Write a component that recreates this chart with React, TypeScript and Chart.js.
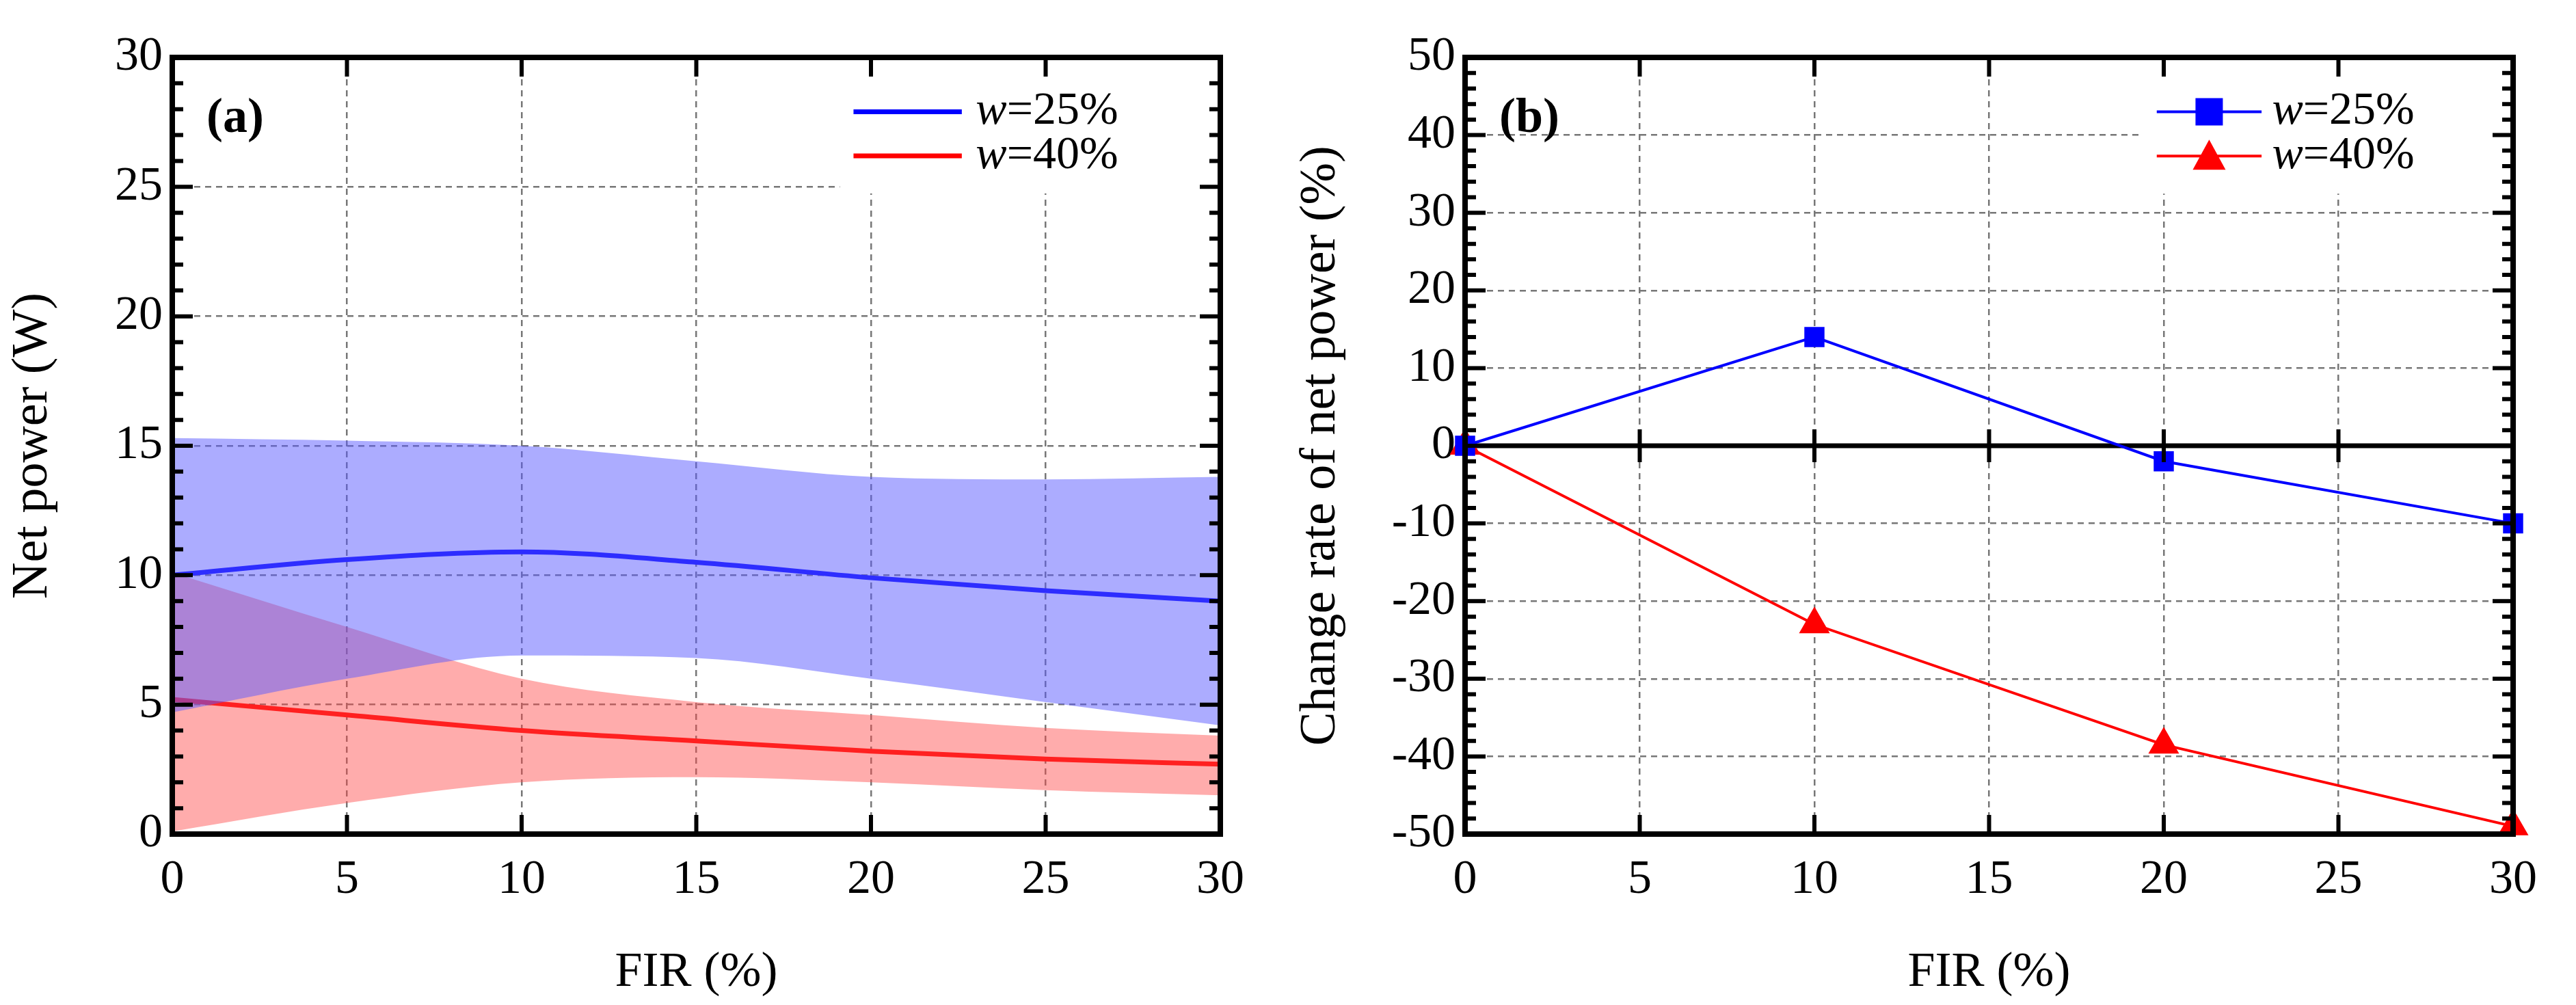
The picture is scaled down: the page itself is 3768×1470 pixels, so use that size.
import React, { useEffect, useRef } from "react";
import { Chart, registerables } from "chart.js";
Chart.register(...registerables);

const firA = [0, 5, 10, 15, 20, 25, 30];
const w25Mean = [10.0, 10.6, 10.9, 10.5, 9.9, 9.4, 9.0];
const w25Upper = [15.3, 15.2, 15.0, 14.4, 13.8, 13.7, 13.8];
const w25Lower = [4.7, 6.0, 6.9, 6.8, 6.0, 5.1, 4.2];
const w40Mean = [5.2, 4.6, 4.0, 3.6, 3.2, 2.9, 2.7];
const w40Upper = [10.1, 8.0, 6.0, 5.1, 4.6, 4.1, 3.8];
const w40Lower = [0.1, 1.2, 2.0, 2.2, 2.0, 1.7, 1.5];

const firB = [0, 10, 20, 30];
const rateW25 = [0, 14, -2, -10];
const rateW40 = [0, -23, -38.5, -49];

const xTicks = [0, 5, 10, 15, 20, 25, 30];
const FONT = "'Liberation Serif', 'DejaVu Serif', serif";

const pts = (xs: number[], ys: number[]) => xs.map((x, i) => ({ x, y: ys[i] }));

function framePlugin(opts: any) {
  return {
    id: "frame",
    beforeDatasetsDraw(chart: any) {
      const { ctx, chartArea: a, scales } = chart;
      const xs = scales.x, ys = scales.y;
      ctx.save();
      const lx0 = xs.getPixelForValue(opts.legX0) - 20;
      const lx1 = xs.getPixelForValue(opts.legTextX) + 340;
      const ly0 = ys.getPixelForValue(opts.legY[0]) - 60;
      const ly1 = ys.getPixelForValue(opts.legY[1]) + 55;
      ctx.fillStyle = "#fff";
      ctx.fillRect(lx0, ly0, lx1 - lx0, ly1 - ly0);
      if (opts.zero) {
        ctx.strokeStyle = "#000";
        ctx.lineWidth = 7;
        ctx.beginPath();
        const y0 = ys.getPixelForValue(0);
        ctx.moveTo(a.left, y0);
        ctx.lineTo(a.right, y0);
        ctx.stroke();
      }
      ctx.restore();
    },
    afterDatasetsDraw(chart: any) {
      const { ctx, chartArea: a, scales } = chart;
      const xs = scales.x, ys = scales.y;
      ctx.save();
      ctx.strokeStyle = "#000";
      ctx.lineWidth = 8;
      ctx.strokeRect(a.left, a.top, a.right - a.left, a.bottom - a.top);
      ctx.lineWidth = 6;
      ctx.beginPath();
      for (let v = 0; v <= 30; v += 5) {
        const px = xs.getPixelForValue(v);
        ctx.moveTo(px, a.bottom); ctx.lineTo(px, a.bottom - 28);
        ctx.moveTo(px, a.top); ctx.lineTo(px, a.top + 28);
        if (opts.zero) { const y0 = ys.getPixelForValue(0); ctx.moveTo(px, y0 - 24); ctx.lineTo(px, y0 + 24); }
      }
      const { min, max, minor, major } = opts.y;
      for (let v = min; v <= max + 1e-9; v += minor) {
        const py = ys.getPixelForValue(v);
        const isMaj = Math.abs(v / major - Math.round(v / major)) < 1e-6;
        const len = isMaj ? 30 : 16;
        ctx.moveTo(a.left, py); ctx.lineTo(a.left + len, py);
        ctx.moveTo(a.right, py); ctx.lineTo(a.right - len, py);
      }
      ctx.stroke();
      ctx.fillStyle = "#000";
      ctx.font = `bold 72px ${FONT}`;
      ctx.textBaseline = "middle";
      ctx.fillText(opts.label, a.left + 50, a.top + 90);
      opts.items.forEach((it: any, i: number) => {
        const py = ys.getPixelForValue(opts.legY[i]);
        const x0 = xs.getPixelForValue(opts.legX0);
        const x1 = xs.getPixelForValue(opts.legX1);
        ctx.strokeStyle = it.color;
        ctx.lineWidth = it.lw;
        ctx.beginPath(); ctx.moveTo(x0, py); ctx.lineTo(x1, py); ctx.stroke();
        ctx.fillStyle = it.color;
        const mx = (x0 + x1) / 2;
        if (it.marker === "square") ctx.fillRect(mx - 20, py - 20, 40, 40);
        if (it.marker === "triangle") { ctx.beginPath(); ctx.moveTo(mx, py - 24); ctx.lineTo(mx + 24, py + 20); ctx.lineTo(mx - 24, py + 20); ctx.closePath(); ctx.fill(); }
        const tx = xs.getPixelForValue(opts.legTextX);
        ctx.fillStyle = "#000";
        ctx.font = `italic 68px ${FONT}`;
        ctx.fillText("w", tx, py);
        const ww = ctx.measureText("w").width;
        ctx.font = `68px ${FONT}`;
        ctx.fillText(it.text, tx + ww, py);
      });
      ctx.restore();
    },
  };
}

function scalesFor(yMin: number, yMax: number, yStep: number, yTitle: string, yWidth: number) {
  const grid = { color: "#777", lineWidth: 2.5, drawTicks: false };
  return {
    x: {
      type: "linear", min: 0, max: 30, afterBuildTicks: (s: any) => { s.ticks = xTicks.map((v) => ({ value: v })); },
      grid: { ...grid }, border: { display: false, dash: [9, 7] },
      ticks: { font: { family: FONT, size: 70 }, color: "#000", padding: 26, maxRotation: 0 },
      title: { display: true, text: "FIR (%)", font: { family: FONT, size: 72 }, color: "#000", padding: { top: 10 } },
      afterFit: (s: any) => { s.height = 250; },
    },
    y: {
      min: yMin, max: yMax,
      ticks: { stepSize: yStep, font: { family: FONT, size: 70 }, color: "#000", padding: 14 },
      grid: { ...grid }, border: { display: false, dash: [9, 7] },
      title: { display: true, text: yTitle, font: { family: FONT, size: 74 }, color: "#000", padding: { bottom: 4 } },
      afterFit: (s: any) => { s.width = yWidth; },
    },
  };
}

function ChartA() {
  const ref = useRef<HTMLCanvasElement>(null);
  useEffect(() => {
    const c = new Chart(ref.current!, {
      type: "line",
      data: {
        datasets: [
          { data: pts(firA, w25Upper), borderWidth: 0, pointRadius: 0, fill: "+1", backgroundColor: "rgba(90,90,255,0.5)", cubicInterpolationMode: "monotone" },
          { data: pts(firA, w25Lower), borderWidth: 0, pointRadius: 0, fill: false, cubicInterpolationMode: "monotone" },
          { data: pts(firA, w40Upper), borderWidth: 0, pointRadius: 0, fill: "+1", backgroundColor: "rgba(255,70,70,0.45)", cubicInterpolationMode: "monotone" },
          { data: pts(firA, w40Lower), borderWidth: 0, pointRadius: 0, fill: false, cubicInterpolationMode: "monotone" },
          { data: pts(firA, w25Mean), borderColor: "#0000ff", borderWidth: 7, pointRadius: 0, fill: false, cubicInterpolationMode: "monotone" },
          { data: pts(firA, w40Mean), borderColor: "#ff0000", borderWidth: 7, pointRadius: 0, fill: false, cubicInterpolationMode: "monotone" },
        ],
      },
      options: {
        animation: false, responsive: false, maintainAspectRatio: false,
        layout: { padding: { top: 84, right: 99, left: 0, bottom: 0 } },
        plugins: { legend: { display: false }, tooltip: { enabled: false } },
        scales: scalesFor(0, 30, 5, "Net power (W)", 252) as any,
      },
      plugins: [framePlugin({ label: "(a)", legX0: 19.5, legX1: 22.6, legTextX: 23.0, legY: [27.9, 26.2], y: { min: 0, max: 30, minor: 1, major: 5 }, items: [
        { color: "#0000ff", lw: 7, text: "=25%" }, { color: "#ff0000", lw: 7, text: "=40%" }] })],
    });
    return () => c.destroy();
  }, []);
  return <canvas ref={ref} width={1884} height={1470} style={{ position: "absolute", left: 0, top: 0 }} />;
}

function ChartB() {
  const ref = useRef<HTMLCanvasElement>(null);
  useEffect(() => {
    const c = new Chart(ref.current!, {
      type: "line",
      data: {
        datasets: [
          { data: pts(firB, rateW25), borderColor: "#0000ff", backgroundColor: "#0000ff", borderWidth: 4, pointStyle: "rect", pointRadius: 18, tension: 0 },
          { data: pts(firB, rateW40), borderColor: "#ff0000", backgroundColor: "#ff0000", borderWidth: 4, pointStyle: "triangle", pointRadius: 22, tension: 0 },
        ],
      },
      options: {
        animation: false, responsive: false, maintainAspectRatio: false,
        layout: { padding: { top: 84, right: 92, left: 0, bottom: 0 } },
        plugins: { legend: { display: false }, tooltip: { enabled: false } },
        clip: false as any,
        scales: scalesFor(-50, 50, 10, "Change rate of net power (%)", 259) as any,
      },
      plugins: [framePlugin({ label: "(b)", legX0: 19.8, legX1: 22.8, legTextX: 23.1, legY: [43.0, 37.3], zero: true, y: { min: -50, max: 50, minor: 2, major: 10 }, items: [
        { color: "#0000ff", lw: 4, text: "=25%", marker: "square" }, { color: "#ff0000", lw: 4, text: "=40%", marker: "triangle" }] })],
    });
    return () => c.destroy();
  }, []);
  return <canvas ref={ref} width={1884} height={1470} style={{ position: "absolute", left: 1884, top: 0 }} />;
}

export default function App() {
  return (
    <div style={{ position: "fixed", left: 0, top: 0, width: 3768, height: 1470, background: "#fff" }}>
      <ChartA />
      <ChartB />
    </div>
  );
}
